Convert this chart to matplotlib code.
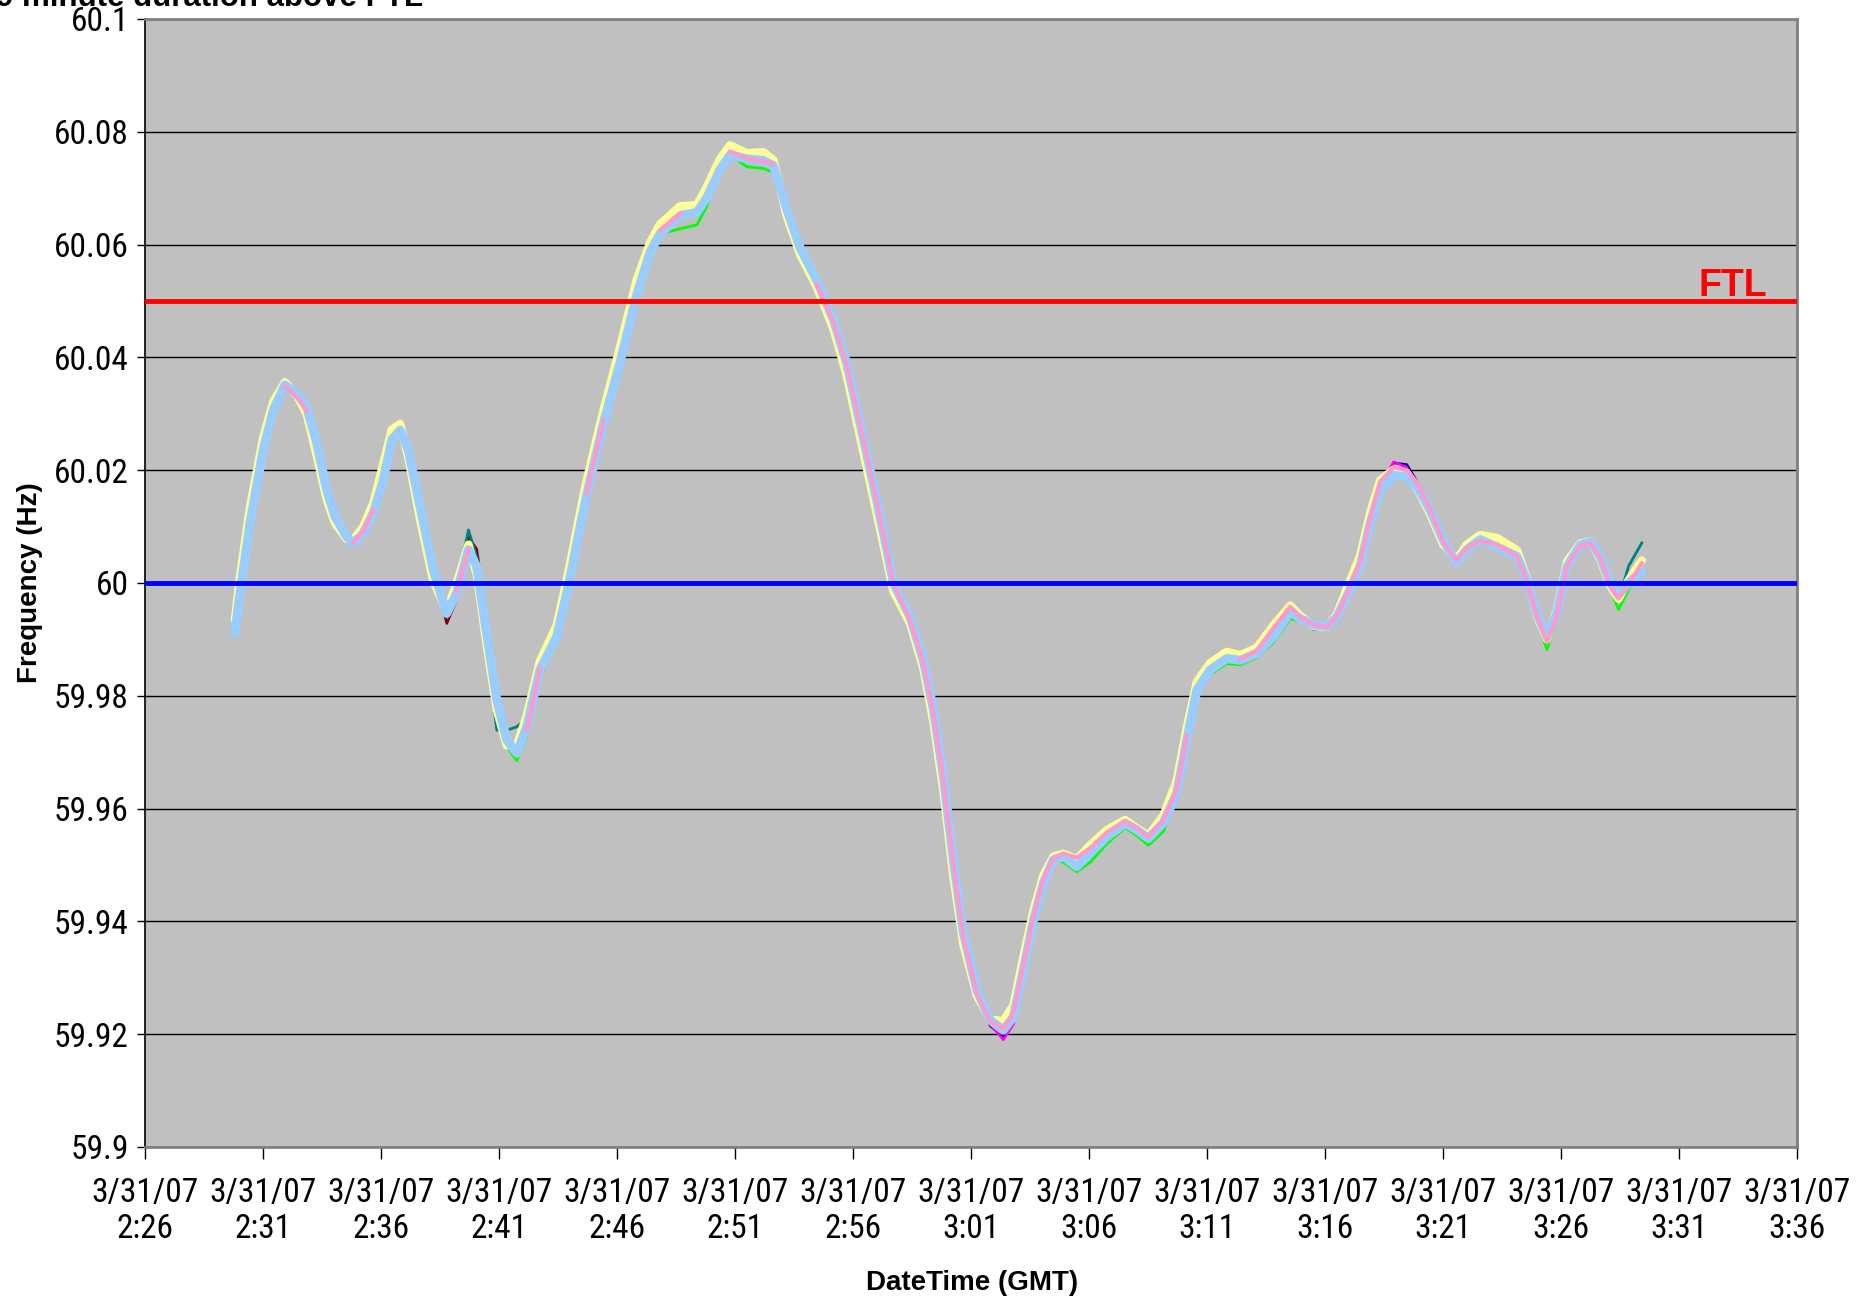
import numpy as np
import matplotlib
matplotlib.use("Agg")
import matplotlib.pyplot as plt
from matplotlib import font_manager

# minutes after 3/31/07 2:26 GMT
minutes = [3.79, 4.00, 4.43, 4.99, 5.42, 5.91, 6.41, 6.83, 7.26, 7.68,
           8.03, 8.53, 8.81, 9.23, 9.66, 10.08, 10.44, 10.79, 11.14, 11.64,
           12.20, 12.77, 13.19, 13.69, 14.04, 14.46, 14.89, 15.31, 15.74, 16.16,
           16.72, 17.43, 17.95, 18.42, 18.70, 19.41, 20.11, 20.82, 21.39, 21.81,
           22.66, 23.37, 23.79, 24.35, 24.78, 25.49, 26.19, 26.61, 27.18, 27.75,
           28.45, 29.16, 29.72, 30.29, 30.85, 31.42, 31.70, 32.41, 32.97, 33.40,
           33.82, 34.24, 34.67, 35.24, 35.80, 36.36, 36.79, 37.21, 37.64, 38.06,
           38.48, 38.91, 39.47, 40.04, 40.75, 41.52, 42.02, 42.51, 43.15, 43.71,
           44.14, 44.56, 45.12, 45.83, 46.40, 47.10, 47.81, 48.52, 48.94, 49.50,
           50.07, 50.50, 50.92, 51.48, 51.91, 52.33, 52.90, 53.46, 53.89, 54.45,
           55.01, 55.55, 56.00, 56.57, 57.28, 58.13, 58.55, 58.97, 59.40, 59.82,
           60.25, 60.81, 61.24, 61.66, 62.08, 62.43, 62.86, 63.42]

light_blue = [59.9911, 59.9980, 60.0106, 60.0236, 60.0307, 60.0351, 60.0336, 60.0313, 60.0248, 60.0165,
              60.0118, 60.0082, 60.0070, 60.0088, 60.0124, 60.0183, 60.0254, 60.0271, 60.0236, 60.0135,
              60.0023, 59.9946, 59.9982, 60.0059, 60.0029, 59.9911, 59.9793, 59.9722, 59.9698, 59.9745,
              59.9846, 59.9905, 60.0000, 60.0100, 60.0156, 60.0283, 60.0390, 60.0511, 60.0587, 60.0619,
              60.0651, 60.0657, 60.0683, 60.0733, 60.0759, 60.0752, 60.0749, 60.0740, 60.0663, 60.0594,
              60.0537, 60.0467, 60.0390, 60.0283, 60.0175, 60.0060, 60.0000, 59.9940, 59.9863, 59.9775,
              59.9657, 59.9509, 59.9379, 59.9278, 59.9225, 59.9207, 59.9231, 59.9314, 59.9402, 59.9468,
              59.9509, 59.9515, 59.9497, 59.9521, 59.9550, 59.9574, 59.9562, 59.9547, 59.9575, 59.9627,
              59.9722, 59.9810, 59.9846, 59.9866, 59.9863, 59.9875, 59.9905, 59.9949, 59.9937, 59.9926,
              59.9923, 59.9940, 59.9976, 60.0029, 60.0106, 60.0165, 60.0191, 60.0188, 60.0171, 60.0129,
              60.0076, 60.0035, 60.0059, 60.0077, 60.0064, 60.0047, 60.0005, 59.9946, 59.9905, 59.9946,
              60.0029, 60.0067, 60.0073, 60.0047, 60.0000, 59.9979, 60.0000, 60.0020]

yellow = [59.9935, 60.0010, 60.0135, 60.0258, 60.0322, 60.0356, 60.0333, 60.0300, 60.0225, 60.0148,
          60.0106, 60.0078, 60.0076, 60.0100, 60.0142, 60.0212, 60.0272, 60.0282, 60.0222, 60.0112,
          60.0003, 59.9950, 60.0000, 60.0068, 60.0015, 59.9890, 59.9775, 59.9712, 59.9712, 59.9765,
          59.9862, 59.9925, 60.0025, 60.0125, 60.0182, 60.0306, 60.0418, 60.0538, 60.0604, 60.0636,
          60.0668, 60.0670, 60.0702, 60.0752, 60.0776, 60.0762, 60.0764, 60.0750, 60.0650, 60.0582,
          60.0525, 60.0450, 60.0368, 60.0258, 60.0150, 60.0040, 59.9985, 59.9928, 59.9848, 59.9752,
          59.9630, 59.9480, 59.9358, 59.9268, 59.9226, 59.9223, 59.9252, 59.9338, 59.9420, 59.9482,
          59.9515, 59.9520, 59.9510, 59.9535, 59.9562, 59.9580, 59.9565, 59.9552, 59.9588, 59.9650,
          59.9745, 59.9825, 59.9858, 59.9878, 59.9872, 59.9885, 59.9925, 59.9960, 59.9942, 59.9924,
          59.9922, 59.9945, 59.9990, 60.0048, 60.0125, 60.0182, 60.0201, 60.0195, 60.0168, 60.0122,
          60.0068, 60.0040, 60.0068, 60.0085, 60.0080, 60.0058, 60.0008, 59.9942, 59.9900, 59.9952,
          60.0038, 60.0070, 60.0074, 60.0042, 59.9995, 59.9972, 60.0005, 60.0040]

# pink series has blanks (None)
pink = [None, None, None, None, None, 60.0348, 60.0330, 60.0305, None, None,
        None, None, 60.0072, 60.0092, 60.0130, None, None, None, None, None,
        None, None, 59.9985, 60.0060, None, None, None, None, None, 59.9740,
        59.9848, None, None, None, 60.0160, 60.0288, None, None, None, 60.0625,
        60.0655, None, None, None, 60.0765, 60.0753, 60.0748, 60.0742, None, None,
        60.0530, 60.0462, 60.0386, 60.0280, 60.0172, 60.0058, 59.9998, 59.9935, 59.9858, 59.9768,
        59.9650, 59.9502, 59.9372, 59.9272, 59.9222, 59.9210, 59.9238, 59.9322, 59.9410, 59.9476,
        59.9512, 59.9520, 59.9513, 59.9530, 59.9558, 59.9578, 59.9565, 59.9550, 59.9580, 59.9634,
        59.9730, None, None, None, 59.9865, 59.9880, 59.9920, 59.9958, 59.9940, 59.9926,
        59.9922, 59.9942, 59.9980, 60.0038, 60.0115, 60.0180, 60.0205, 60.0200, 60.0178, 60.0130,
        60.0072, 60.0040, 60.0062, 60.0075, 60.0068, 60.0048, 60.0003, 59.9942, 59.9895, 59.9942,
        60.0030, 60.0066, 60.0070, 60.0045, 59.9995, 59.9972, 59.9998, 60.0035]

green = [59.9925, 59.9980, 60.0106, 60.0236, 60.0307, 60.0351, 60.0336, 60.0313, 60.0248, 60.0165,
         60.0118, 60.0082, 60.0070, 60.0088, 60.0124, 60.0183, 60.0254, 60.0271, 60.0236, 60.0135,
         60.0023, 59.9943, 59.9975, 60.0050, 60.0029, 59.9911, 59.9793, 59.9710, 59.9685, 59.9728,
         59.9830, 59.9905, 60.0000, 60.0100, 60.0156, 60.0283, 60.0390, 60.0511, 60.0587, 60.0619,
         60.0628, 60.0635, 60.0668, 60.0733, 60.0759, 60.0738, 60.0735, 60.0728, 60.0663, 60.0594,
         60.0537, 60.0467, 60.0390, 60.0283, 60.0175, 60.0060, 60.0000, 59.9940, 59.9863, 59.9775,
         59.9657, 59.9509, 59.9379, 59.9278, 59.9225, 59.9207, 59.9231, 59.9314, 59.9402, 59.9468,
         59.9509, 59.9505, 59.9488, 59.9505, 59.9538, 59.9566, 59.9552, 59.9535, 59.9560, 59.9627,
         59.9722, 59.9810, 59.9838, 59.9857, 59.9855, 59.9868, 59.9895, 59.9937, 59.9932, 59.9926,
         59.9923, 59.9940, 59.9976, 60.0029, 60.0106, 60.0165, 60.0191, 60.0188, 60.0171, 60.0129,
         60.0076, 60.0035, 60.0059, 60.0077, 60.0064, 60.0047, 60.0005, 59.9935, 59.9882, 59.9935,
         60.0029, 60.0067, 60.0073, 60.0047, 59.9990, 59.9953, 59.9988, 60.0040]

teal = [59.9930, 60.0015, 60.0140, 60.0236, 60.0307, 60.0351, 60.0336, 60.0300, 60.0230, 60.0165,
        60.0118, 60.0082, 60.0070, 60.0088, 60.0124, 60.0210, 60.0268, 60.0271, 60.0220, 60.0112,
        60.0023, 59.9940, 59.9995, 60.0094, 60.0045, 59.9890, 59.9739, 59.9739, 59.9745, 59.9760,
        59.9860, 59.9905, 60.0030, 60.0130, 60.0156, 60.0283, 60.0420, 60.0540, 60.0587, 60.0619,
        60.0651, 60.0657, 60.0683, 60.0733, 60.0759, 60.0752, 60.0749, 60.0740, 60.0640, 60.0575,
        60.0520, 60.0467, 60.0390, 60.0283, 60.0175, 60.0060, 60.0000, 59.9925, 59.9840, 59.9775,
        59.9630, 59.9480, 59.9350, 59.9262, 59.9218, 59.9205, 59.9231, 59.9340, 59.9432, 59.9490,
        59.9509, 59.9515, 59.9512, 59.9521, 59.9550, 59.9574, 59.9562, 59.9547, 59.9575, 59.9627,
        59.9740, 59.9818, 59.9846, 59.9866, 59.9863, 59.9875, 59.9905, 59.9949, 59.9937, 59.9926,
        59.9923, 59.9940, 59.9976, 60.0029, 60.0106, 60.0165, 60.0191, 60.0188, 60.0171, 60.0115,
        60.0060, 60.0035, 60.0059, 60.0077, 60.0064, 60.0047, 59.9995, 59.9938, 59.9905, 59.9946,
        60.0029, 60.0067, 60.0073, 60.0047, 59.9995, 59.9968, 60.0030, 60.0071]

navy = [59.9911, 59.9980, 60.0106, 60.0236, 60.0307, 60.0351, 60.0336, 60.0313, 60.0248, 60.0165,
        60.0118, 60.0082, 60.0070, 60.0088, 60.0124, 60.0183, 60.0254, 60.0271, 60.0236, 60.0135,
        60.0023, 59.9946, 59.9982, 60.0059, 60.0029, 59.9911, 59.9793, 59.9722, 59.9698, 59.9745,
        59.9846, 59.9905, 60.0000, 60.0100, 60.0156, 60.0283, 60.0390, 60.0511, 60.0587, 60.0619,
        60.0651, 60.0657, 60.0683, 60.0733, 60.0759, 60.0752, 60.0749, 60.0740, 60.0663, 60.0594,
        60.0537, 60.0467, 60.0390, 60.0283, 60.0175, 60.0060, 60.0000, 59.9940, 59.9863, 59.9775,
        59.9657, 59.9509, 59.9379, 59.9278, 59.9215, 59.9195, 59.9222, 59.9314, 59.9402, 59.9468,
        59.9509, 59.9515, 59.9497, 59.9521, 59.9550, 59.9574, 59.9562, 59.9547, 59.9575, 59.9627,
        59.9722, 59.9810, 59.9846, 59.9866, 59.9863, 59.9875, 59.9905, 59.9949, 59.9937, 59.9926,
        59.9923, 59.9940, 59.9976, 60.0029, 60.0106, 60.0175, 60.0213, 60.0210, 60.0180, 60.0129,
        60.0076, 60.0035, 60.0059, 60.0077, 60.0064, 60.0047, 60.0005, 59.9946, 59.9905, 59.9946,
        60.0029, 60.0067, 60.0073, 60.0047, 60.0000, 59.9979, 60.0000, 60.0020]

magenta = [59.9911, 59.9980, 60.0106, 60.0236, 60.0307, 60.0351, 60.0336, 60.0313, 60.0248, 60.0165,
           60.0118, 60.0082, 60.0070, 60.0088, 60.0124, 60.0183, 60.0254, 60.0271, 60.0236, 60.0135,
           60.0023, 59.9946, 59.9982, 60.0059, 60.0029, 59.9911, 59.9793, 59.9722, 59.9698, 59.9745,
           59.9846, 59.9905, 60.0000, 60.0100, 60.0156, 60.0283, 60.0390, 60.0511, 60.0587, 60.0619,
           60.0651, 60.0657, 60.0683, 60.0733, 60.0759, 60.0752, 60.0749, 60.0740, 60.0663, 60.0594,
           60.0537, 60.0467, 60.0390, 60.0283, 60.0175, 60.0060, 60.0000, 59.9940, 59.9863, 59.9775,
           59.9657, 59.9509, 59.9379, 59.9278, 59.9218, 59.9190, 59.9218, 59.9314, 59.9402, 59.9468,
           59.9509, 59.9515, 59.9497, 59.9521, 59.9550, 59.9574, 59.9562, 59.9547, 59.9575, 59.9627,
           59.9722, 59.9810, 59.9846, 59.9866, 59.9863, 59.9875, 59.9905, 59.9949, 59.9937, 59.9926,
           59.9923, 59.9940, 59.9976, 60.0029, 60.0106, 60.0165, 60.0215, 60.0205, 60.0171, 60.0129,
           60.0076, 60.0035, 60.0059, 60.0077, 60.0064, 60.0047, 60.0005, 59.9946, 59.9905, 59.9946,
           60.0029, 60.0067, 60.0073, 60.0047, 60.0000, 59.9979, 60.0000, 60.0020]

maroon = [59.9911, 59.9980, 60.0106, 60.0236, 60.0307, 60.0351, 60.0336, 60.0313, 60.0248, 60.0165,
          60.0118, 60.0078, 60.0065, 60.0088, 60.0124, 60.0183, 60.0254, 60.0271, 60.0236, 60.0135,
          60.0023, 59.9928, 59.9970, 60.0082, 60.0060, 59.9940, 59.9793, 59.9720, 59.9710, 59.9745,
          59.9846, 59.9905, 60.0000, 60.0100, 60.0156, 60.0283, 60.0390, 60.0511, 60.0587, 60.0619,
          60.0651, 60.0657, 60.0683, 60.0733, 60.0759, 60.0752, 60.0749, 60.0740, 60.0663, 60.0594,
          60.0537, 60.0467, 60.0390, 60.0283, 60.0175, 60.0060, 60.0000, 59.9940, 59.9863, 59.9775,
          59.9657, 59.9509, 59.9379, 59.9278, 59.9225, 59.9200, 59.9231, 59.9314, 59.9402, 59.9468,
          59.9509, 59.9515, 59.9497, 59.9521, 59.9550, 59.9574, 59.9562, 59.9547, 59.9575, 59.9627,
          59.9722, 59.9810, 59.9846, 59.9866, 59.9863, 59.9875, 59.9905, 59.9949, 59.9937, 59.9918,
          59.9920, 59.9940, 59.9976, 60.0029, 60.0106, 60.0165, 60.0191, 60.0188, 60.0171, 60.0129,
          60.0076, 60.0035, 60.0059, 60.0077, 60.0064, 60.0047, 60.0005, 59.9946, 59.9905, 59.9946,
          60.0029, 60.0067, 60.0073, 60.0047, 60.0000, 59.9979, 60.0000, 60.0020]

ftl = 60.05
nominal = 60.0

x_ticks = [0, 5, 10, 15, 20, 25, 30, 35, 40, 45, 50, 55, 60, 65, 70]
x_labels = ["3/31/07\n2:26", "3/31/07\n2:31", "3/31/07\n2:36", "3/31/07\n2:41",
            "3/31/07\n2:46", "3/31/07\n2:51", "3/31/07\n2:56", "3/31/07\n3:01",
            "3/31/07\n3:06", "3/31/07\n3:11", "3/31/07\n3:16", "3/31/07\n3:21",
            "3/31/07\n3:26", "3/31/07\n3:31", "3/31/07\n3:36"]
y_ticks = [59.9, 59.92, 59.94, 59.96, 59.98, 60.0, 60.02, 60.04, 60.06, 60.08, 60.1]
y_labels = ["59.9", "59.92", "59.94", "59.96", "59.98", "60", "60.02", "60.04", "60.06", "60.08", "60.1"]

# tick labels use a narrow face when one is installed
installed = {f.name for f in font_manager.fontManager.ttflist}
narrow_face = None
for name in ["Liberation Sans Narrow", "Arial Narrow", "DejaVu Sans Condensed",
             "Roboto Condensed", "Open Sans Condensed", "Noto Sans Condensed"]:
    if name in installed:
        narrow_face = name
        break
if narrow_face:
    tick_font = dict(family=[narrow_face, "DejaVu Sans"], fontsize=24)
else:
    tick_font = dict(family=["Liberation Sans", "DejaVu Sans"], fontsize=21)
bold = ["Liberation Sans", "DejaVu Sans"]

fig = plt.figure(figsize=(18.7, 13), dpi=100)
ax = fig.add_axes([0.0778, 0.1177, 0.8832, 0.8677])
ax.set_facecolor("#C0C0C0")

t = np.array(minutes)
# thin series first, pale thick ones over them
ax.plot(t, navy, color="#000080", lw=1.8, zorder=2)
ax.plot(t, magenta, color="#FF00FF", lw=1.8, zorder=2)
ax.plot(t, maroon, color="#800000", lw=1.8, zorder=2)
ax.plot(t, teal, color="#008080", lw=2, zorder=2)
ax.plot(t, green, color="#00FF00", lw=2, zorder=2)
ax.plot(t, yellow, color="#FFFF99", lw=6, zorder=3, solid_joinstyle="round", solid_capstyle="round")
ax.plot(t, light_blue, color="#99CCFF", lw=6.5, zorder=4, solid_joinstyle="round", solid_capstyle="round")
ax.plot(t, np.array(pink, dtype=float), color="#FF99CC", lw=3, zorder=5, solid_joinstyle="round")

ax.axhline(ftl, color="#FF0000", lw=3.5, zorder=6)
ax.axhline(nominal, color="#0000FF", lw=3.5, zorder=6)
ax.text(68.74, 60.0508, "FTL", color="#FF0000", fontsize=27, fontweight="bold",
        family=bold, ha="right", va="baseline", zorder=7)

ax.set_xlim(0, 70)
ax.set_ylim(59.9, 60.1)
ax.set_xticks(x_ticks)
ax.set_xticklabels(x_labels, linespacing=1.15, **tick_font)
ax.set_yticks(y_ticks)
ax.set_yticklabels(y_labels, **tick_font)
ax.tick_params(axis="x", length=8.5, width=1, pad=13, color="black")
ax.tick_params(axis="y", length=6, width=1, pad=6, color="black")
ax.grid(axis="y", color="black", lw=1)
ax.set_axisbelow(True)

for side in ["top", "right", "bottom"]:
    ax.spines[side].set_color("#808080")
    ax.spines[side].set_linewidth(2)
ax.spines["left"].set_color("black")
ax.spines["left"].set_linewidth(1.2)

ax.set_xlabel("DateTime (GMT)", fontsize=20, fontweight="bold", family=bold)
ax.xaxis.set_label_coords(0.5005, -0.109)
ax.set_ylabel("Frequency (Hz)", fontsize=20, fontweight="bold", family=bold)
ax.yaxis.set_label_coords(-0.062, 0.5)

# title sits partly above the top edge of the picture
fig.text(0.2262, 0.9954, "9 minute duration above FTL", fontsize=22.5, fontweight="bold",
         family=bold, ha="right", va="baseline")

fig.savefig("out.png", dpi=100, facecolor="white")
